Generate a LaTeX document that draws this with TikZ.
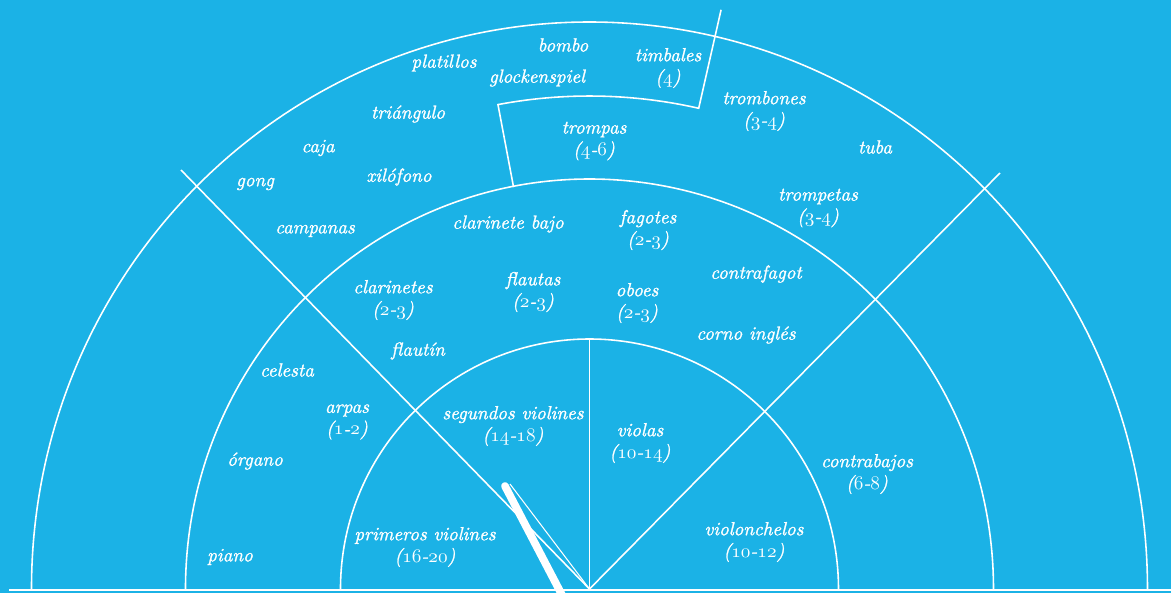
\documentclass[tikz,border=0pt]{standalone}
\usepackage{fontspec}
\usepackage{xcolor}
\usepackage{tikz}

\newfontfamily\instrfont{Latin Modern Roman}[FakeBold=1.3]
\definecolor{stage}{RGB}{27,178,230}
\newcommand{\nrange}[2]{(\legacyoldstylenums{#1}-\legacyoldstylenums{#2})}

\begin{document}
\begin{tikzpicture}[x=0.02cm, y=0.02cm,
                    part/.style={white, line width=0.9pt},
                    instr/.style={text=white, align=center, inner sep=0pt,
                                  font=\fontsize{10.8}{12.5}\selectfont\instrfont\itshape}]
  \fill[stage] (-589.5,-4) rectangle (581.5,589);
  \useasboundingbox (-589.5,-4) rectangle (581.5,589);

  \coordinate (podium) at (0,0);
  \coordinate (leftend) at (-408.5,419);
  \coordinate (rightend) at (410.5,416);
  \coordinate (violatop) at (0,250);
  \coordinate (stageleft) at (-580,-1);
  \coordinate (stageright) at (581.5,-1);
  \coordinate (batontip) at (-84.5,103);
  \coordinate (batonend) at (-27.5,-6);
  \coordinate (batonedge) at (-79.5,105);

  \draw[part] (249,0) arc[start angle=0, end angle=180, x radius=249, y radius=250];
  \draw[part] (404,0) arc[start angle=0, end angle=180, x radius=404, y radius=410];
  \draw[part] (558,0) arc[start angle=0, end angle=180, x radius=558, y radius=567];
  \draw[part] (podium) -- (leftend);
  \draw[part] (podium) -- (rightend);
  \draw[part] (podium) -- (violatop);
  \draw[part] (77.2:594) -- (77.2:493)
    arc[start angle=77.2, end angle=100.7, radius=493] -- (100.7:409);
  \draw[white, line width=1.6pt] (stageleft) -- (stageright);
  \draw[white, line width=0.6pt] (batonedge) -- (podium);
  \draw[white, line width=4.4pt, line cap=round] (batontip) -- (batonend);

  \node[instr] (bombo) at (-26.5,544) {bombo};
  \node[instr] (platillos) at (-145.5,526) {platillos};
  \node[instr] (timbales) at (78.5,521) {timbales\\(\legacyoldstylenums{4})};
  \node[instr] (glockenspiel) at (-52.5,511) {glockenspiel};
  \node[instr] (triangulo) at (-181.5,475) {triángulo};
  \node[instr] (trombones) at (174.5,478) {trombones\\\nrange{3}{4}};
  \node[instr] (trompas) at (4.5,448) {trompas\\\nrange{4}{6}};
  \node[instr] (caja) at (-271.5,441) {caja};
  \node[instr] (tuba) at (285.5,442) {tuba};
  \node[instr] (xilofono) at (-190.5,412) {xilófono};
  \node[instr] (gong) at (-334.5,405) {gong};
  \node[instr] (trompetas) at (228.5,381) {trompetas\\\nrange{3}{4}};
  \node[instr] (campanas) at (-274.5,358) {campanas};
  \node[instr] (clarinetebajo) at (-81.5,365) {clarinete bajo};
  \node[instr] (fagotes) at (58.5,359) {fagotes\\\nrange{2}{3}};
  \node[instr] (contrafagot) at (166.5,315) {contrafagot};
  \node[instr] (clarinetes) at (-196.5,289) {clarinetes\\\nrange{2}{3}};
  \node[instr] (flautas) at (-56.5,297) {flautas\\\nrange{2}{3}};
  \node[instr] (oboes) at (47.5,286) {oboes\\\nrange{2}{3}};
  \node[instr] (cornoingles) at (156.5,254) {corno inglés};
  \node[instr] (flautin) at (-171.5,238) {flautín};
  \node[instr] (celesta) at (-302.5,219) {celesta};
  \node[instr] (arpas) at (-242.5,167) {arpas\\\nrange{1}{2}};
  \node[instr] (segundos) at (-76.5,163) {segundos violines\\\nrange{14}{18}};
  \node[instr] (violas) at (50.5,146) {violas\\\nrange{10}{14}};
  \node[instr] (organo) at (-334.5,128) {órgano};
  \node[instr] (contrabajos) at (277.5,115) {contrabajos\\\nrange{6}{8}};
  \node[instr] (primeros) at (-164.5,42) {primeros violines\\\nrange{16}{20}};
  \node[instr] (violonchelos) at (164.5,47) {violonchelos\\\nrange{10}{12}};
  \node[instr] (piano) at (-359.5,32) {piano};
\end{tikzpicture}
\end{document}
